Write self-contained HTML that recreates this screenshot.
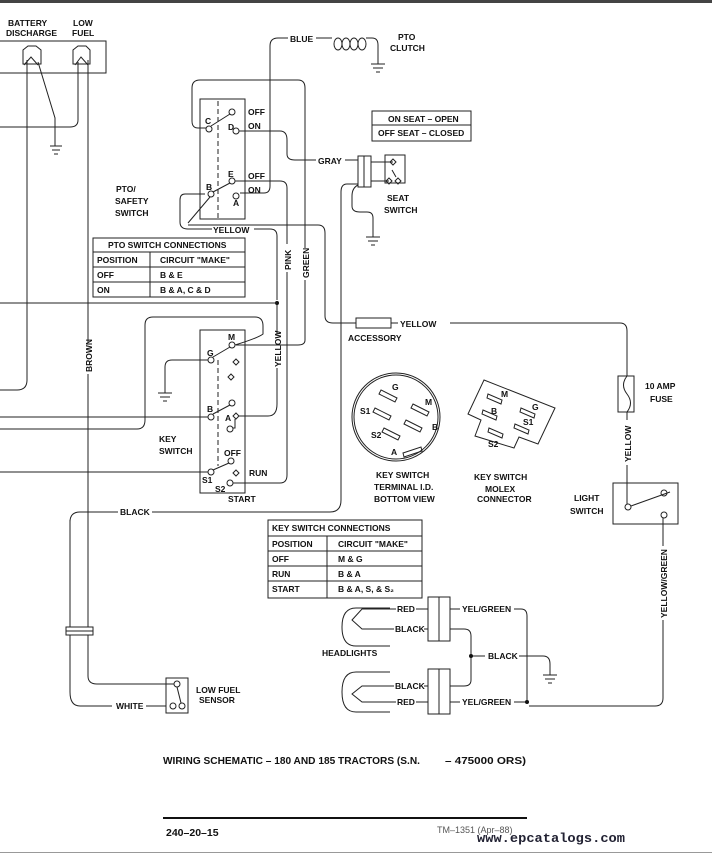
<!DOCTYPE html>
<html><head><meta charset="utf-8"><style>
body{margin:0;background:#fff}
svg{display:block}
text{font-family:"Liberation Sans",sans-serif;font-weight:bold;font-size:8.5px;fill:#111}
.w{fill:none;stroke:#222;stroke-width:1}
.t{fill:#fff;stroke:#222;stroke-width:1}
</style></head><body>
<svg width="712" height="855" viewBox="0 0 712 855" xmlns="http://www.w3.org/2000/svg">
<rect x="0" y="0" width="712" height="3" fill="#444"/>
<!-- gauges -->
<text x="8" y="26">BATTERY</text><text x="6" y="36">DISCHARGE</text>
<text x="73" y="26">LOW</text><text x="72" y="36">FUEL</text>
<path class="w" d="M0 41H106V73H0"/>
<path class="w" d="M23 64V50L28 46H36L41 50V64Z M73 64V50L78 46H86L90 50V64Z"/>
<path class="w" d="M24 65L31 57L38 65 M75 65L81 57L88 65"/>
<path class="w" d="M27 60V380Q27 390 17 390H0"/>
<path class="w" d="M38 62L55 118V146 M50 146H62 M52 150H60 M54 154H58"/>
<path class="w" d="M78 62V120Q78 127 70 127H0"/>
<path class="w" d="M88 60V676Q88 684 97 684H175"/>
<rect x="82" y="342" width="12" height="32" fill="#fff"/>
<text transform="translate(92,372) rotate(-90)">BROWN</text>
<path class="w" d="M70 520V692Q70 706 80 706H112 M146 706H166"/>
<text x="116" y="709">WHITE</text>
<rect class="t" x="66" y="627" width="27" height="8"/><path class="w" d="M66 631H93"/>
<rect class="w" x="166" y="678" width="22" height="35"/>
<circle class="t" cx="177" cy="684" r="3"/><circle class="t" cx="173" cy="706" r="3"/><circle class="t" cx="182" cy="706" r="3"/>
<path class="w" d="M177 687L181 703"/>
<text x="196" y="693">LOW FUEL</text><text x="199" y="703">SENSOR</text>
<!-- PTO switch -->
<rect class="w" x="200" y="99" width="45" height="120"/>
<path class="w" d="M218 101V218" stroke-dasharray="5,3"/>
<path class="w" d="M209 128H198Q192 128 192 121V88Q192 80 200 80H298Q305 80 305 88V340Q305 345 298 345H236"/>
<path class="w" d="M239 131H280Q287 131 287 140V154Q287 160 295 160H316 M345 160H358"/>
<text x="318" y="164">GRAY</text>
<path class="w" d="M240 193H264Q270 193 270 186V46Q270 38 278 38H288 M316 38H332"/>
<text x="290" y="42">BLUE</text>
<path class="w" d="M235 181H280Q287 181 287 188V244 M287 272V475Q287 483 280 483H233"/>
<text transform="translate(291,270) rotate(-90)">PINK</text>
<rect x="301" y="248" width="9" height="32" fill="#fff"/>
<text transform="translate(309,278) rotate(-90)">GREEN</text>
<path class="w" d="M210 197L188 223 M205 194H185Q180 194 180 200V222Q180 229 188 229H212 M254 229H270Q277 229 277 236V300 M277 305V334 M277 368V404Q277 416 268 416H239"/>
<text x="213" y="233">YELLOW</text>
<text transform="translate(281,367) rotate(-90)">YELLOW</text>
<circle cx="277" cy="303" r="2" fill="#111"/>
<path class="w" d="M0 303H277"/>
<path class="w" d="M188 225H318Q325 225 325 233V316Q325 323 333 323H356 M391 323H398 M450 323H620Q627 323 627 331V376 M627 412V420 M627 465V497"/>
<rect class="t" x="356" y="318" width="35" height="10"/>
<text x="348" y="341">ACCESSORY</text>
<text x="400" y="327">YELLOW</text>
<circle class="t" cx="209" cy="129" r="3"/><circle class="t" cx="232" cy="112" r="3"/><circle class="t" cx="236" cy="131" r="3"/>
<circle class="t" cx="232" cy="181" r="3"/><circle class="t" cx="211" cy="194" r="3"/><circle class="t" cx="236" cy="196" r="3"/>
<path class="w" d="M211 126L230 114 M213 192L230 183"/>
<text x="205" y="124">C</text><text x="228" y="130">D</text><text x="228" y="177">E</text><text x="206" y="190">B</text><text x="233" y="206">A</text>
<text x="248" y="115">OFF</text><text x="248" y="129">ON</text><text x="248" y="179">OFF</text><text x="248" y="193">ON</text>
<text x="116" y="192">PTO/</text><text x="115" y="204">SAFETY</text><text x="115" y="216">SWITCH</text>
<!-- PTO table -->
<rect class="w" x="93" y="238" width="152" height="59"/>
<path class="w" d="M93 252H245 M93 267H245 M93 282H245 M150 252V297"/>
<text x="108" y="248">PTO SWITCH CONNECTIONS</text>
<text x="97" y="263">POSITION</text><text x="160" y="263">CIRCUIT "MAKE"</text>
<text x="97" y="278">OFF</text><text x="160" y="278">B &amp; E</text>
<text x="97" y="293">ON</text><text x="160" y="293">B &amp; A, C &amp; D</text>
<!-- clutch -->
<path class="w" d="M334 44a4 6 0 1 0 8 0a4 6 0 1 0 -8 0 M342 44a4 6 0 1 0 8 0a4 6 0 1 0 -8 0 M350 44a4 6 0 1 0 8 0a4 6 0 1 0 -8 0 M358 44a4 6 0 1 0 8 0a4 6 0 1 0 -8 0"/>
<path class="w" d="M366 38H372Q378 38 378 45V64 M371 64H385 M373 68H383 M376 72H380"/>
<text x="398" y="40">PTO</text><text x="390" y="51">CLUTCH</text>
<!-- seat -->
<rect class="w" x="372" y="111" width="99" height="30"/><path class="w" d="M372 125H471"/>
<text x="388" y="122">ON SEAT – OPEN</text><text x="378" y="136">OFF SEAT – CLOSED</text>
<rect class="t" x="358" y="156" width="13" height="31"/><path class="w" d="M364 156V187"/>
<rect class="w" x="385" y="155" width="20" height="28"/>
<path class="w" d="M371 162H393 M371 181H389"/>
<path class="w" d="M393 159l3 3-3 3-3-3z M389 178l3 3-3 3-3-3z M398 178l3 3-3 3-3-3z M392 170L396 177" />
<text x="387" y="201">SEAT</text><text x="384" y="213">SWITCH</text>
<path class="w" d="M358 184H347Q341 184 341 192V500Q341 512 330 512H152 M118 512H80Q70 512 70 522"/>
<text x="120" y="515">BLACK</text>
<path class="w" d="M358 185Q352 188 352 196V206Q352 212 360 212H367Q373 212 373 218V237 M366 237H380 M368 241H378 M371 245H375"/>
<!-- key switch -->
<rect class="w" x="200" y="330" width="45" height="163"/>
<path class="w" d="M218 360V466" stroke-dasharray="5,3"/>
<path class="w" d="M0 417H208 M0 429H137Q145 429 145 420V325Q145 317 153 317H255Q263 317 263 326V334Q258 338 235 345 M208 360H172Q165 360 165 367V393 M158 393H172 M160 397H170 M163 401H167 M0 472H208"/>
<circle class="t" cx="232" cy="345" r="3"/><circle class="t" cx="211" cy="360" r="3"/><path class="w" d="M236 359l3 3-3 3-3-3z M231 374l3 3-3 3-3-3z"/>
<circle class="t" cx="232" cy="403" r="3"/><circle class="t" cx="211" cy="417" r="3"/><path class="w" d="M236 413l3 3-3 3-3-3z"/><circle class="t" cx="230" cy="429" r="3"/>
<path class="w" d="M235 419V428H233 M213 357L230 347 M213 414L230 405 M213 470L229 463"/>
<circle class="t" cx="231" cy="461" r="3"/><circle class="t" cx="211" cy="472" r="3"/><path class="w" d="M236 470l3 3-3 3-3-3z"/><circle class="t" cx="230" cy="483" r="3"/>
<text x="228" y="340">M</text><text x="207" y="356">G</text><text x="207" y="412">B</text><text x="225" y="421">A</text>
<text x="224" y="456">OFF</text><text x="249" y="476">RUN</text><text x="228" y="502">START</text>
<text x="202" y="483">S1</text><text x="215" y="492">S2</text>
<text x="159" y="442">KEY</text><text x="159" y="454">SWITCH</text>
<!-- key table -->
<rect class="w" x="268" y="520" width="154" height="78"/>
<path class="w" d="M268 536H422 M268 551H422 M268 566H422 M268 581H422 M327 536V598"/>
<text x="272" y="531">KEY SWITCH CONNECTIONS</text>
<text x="272" y="547">POSITION</text><text x="338" y="547">CIRCUIT "MAKE"</text>
<text x="272" y="562">OFF</text><text x="338" y="562">M &amp; G</text>
<text x="272" y="577">RUN</text><text x="338" y="577">B &amp; A</text>
<text x="272" y="592">START</text><text x="338" y="592">B &amp; A,  S, &amp;  S₂</text>
<!-- key circle -->
<circle class="w" cx="396" cy="417" r="44"/><circle class="w" cx="396" cy="417" r="42"/>
<g class="w"><path d="M381 390l16 8-2 4-16-8z M375 408l16 8-2 4-16-8z M384 428l16 8-2 4-16-8z M413 404l16 8-2 4-16-8z M406 420l16 8-2 4-16-8z M403 453l18-6 1 4-18 6z"/></g>
<text x="392" y="390">G</text><text x="425" y="405">M</text><text x="360" y="414">S1</text><text x="432" y="430">B</text><text x="371" y="438">S2</text><text x="391" y="455">A</text>
<text x="376" y="478">KEY SWITCH</text><text x="374" y="490">TERMINAL I.D.</text><text x="374" y="502">BOTTOM VIEW</text>
<path class="w" d="M484 380L555 408L538 444L519 437L514 448L475 436L481 420L468 414Z"/>
<g class="w"><path d="M488 394l14 6-1 4-14-6z M483 410l14 6-1 4-14-6z M521 408l14 6-1 4-14-6z M515 424l14 6-1 4-14-6z M489 428l14 6-1 4-14-6z"/></g>
<text x="501" y="397">M</text><text x="491" y="414">B</text><text x="532" y="410">G</text><text x="523" y="425">S1</text><text x="488" y="447">S2</text>
<text x="474" y="480">KEY SWITCH</text><text x="485" y="492">MOLEX</text><text x="477" y="502">CONNECTOR</text>
<!-- fuse -->
<rect class="w" x="618" y="376" width="16" height="36"/>
<path class="w" d="M627 376Q620 385 627 394Q634 403 627 412"/>
<text x="645" y="389">10 AMP</text><text x="650" y="402">FUSE</text>
<text transform="translate(631,462) rotate(-90)">YELLOW</text>
<rect class="w" x="613" y="483" width="65" height="41"/>
<circle class="t" cx="628" cy="507" r="3"/><circle class="t" cx="664" cy="493" r="3"/><circle class="t" cx="664" cy="515" r="3"/>
<path class="w" d="M631 506L670 492 M627 497V504"/>
<text x="574" y="501">LIGHT</text><text x="570" y="514">SWITCH</text>
<path class="w" d="M663 518V546 M663 620V698Q663 706 655 706H529"/>
<text transform="translate(667,618) rotate(-90)">YELLOW/GREEN</text>
<!-- headlights -->
<path class="w" d="M390 608H356Q342 608 342 627Q342 646 356 646H390 M390 672H356Q342 672 342 692Q342 712 356 712H390"/>
<path class="w" d="M392 609H362L352 620L362 629H392 M392 686H362L352 694L362 702H392"/>
<rect class="w" x="428" y="597" width="22" height="44"/><path class="w" d="M439 597V641"/>
<rect class="w" x="428" y="669" width="22" height="45"/><path class="w" d="M439 669V714"/>
<path class="w" d="M392 609H396 M416 609H428 M392 629H394 M424 629H428 M392 686H394 M424 686H428 M392 702H396 M416 702H428"/>
<text x="397" y="612">RED</text><text x="395" y="632">BLACK</text><text x="395" y="689">BLACK</text><text x="397" y="705">RED</text>
<path class="w" d="M450 609H460 M514 609H521Q527 609 527 616V702 M450 702H460 M514 702H529 M450 629H464Q471 629 471 636V680Q471 686 464 686H450 M471 656H485 M519 656H543Q550 656 550 664V675 M543 675H557 M545 679H555 M548 683H552"/>
<circle cx="471" cy="656" r="2" fill="#111"/><circle cx="527" cy="702" r="2" fill="#111"/>
<text x="462" y="612">YEL/GREEN</text><text x="462" y="705">YEL/GREEN</text><text x="488" y="659">BLACK</text>
<text x="322" y="656">HEADLIGHTS</text>
<!-- footer -->
<text x="163" y="764" style="font-size:10.5px" textLength="257" lengthAdjust="spacingAndGlyphs">WIRING SCHEMATIC – 180 AND 185 TRACTORS (S.N.</text>
<text x="445" y="764" style="font-size:10.5px" textLength="81" lengthAdjust="spacingAndGlyphs">– 475000   ORS)</text>
<rect x="163" y="817" width="364" height="2" fill="#111"/>
<text x="166" y="836" style="font-size:10.5px">240–20–15</text>
<text x="437" y="833" style="font-weight:normal;font-size:9px;fill:#555">TM–1351 (Apr–88)</text>
<text x="477" y="842" style="font-family:'Liberation Mono',monospace;font-size:13px;fill:#223" textLength="148" lengthAdjust="spacingAndGlyphs">www.epcatalogs.com</text>
<rect x="0" y="852" width="712" height="1" fill="#999"/>
</svg>
</body></html>
